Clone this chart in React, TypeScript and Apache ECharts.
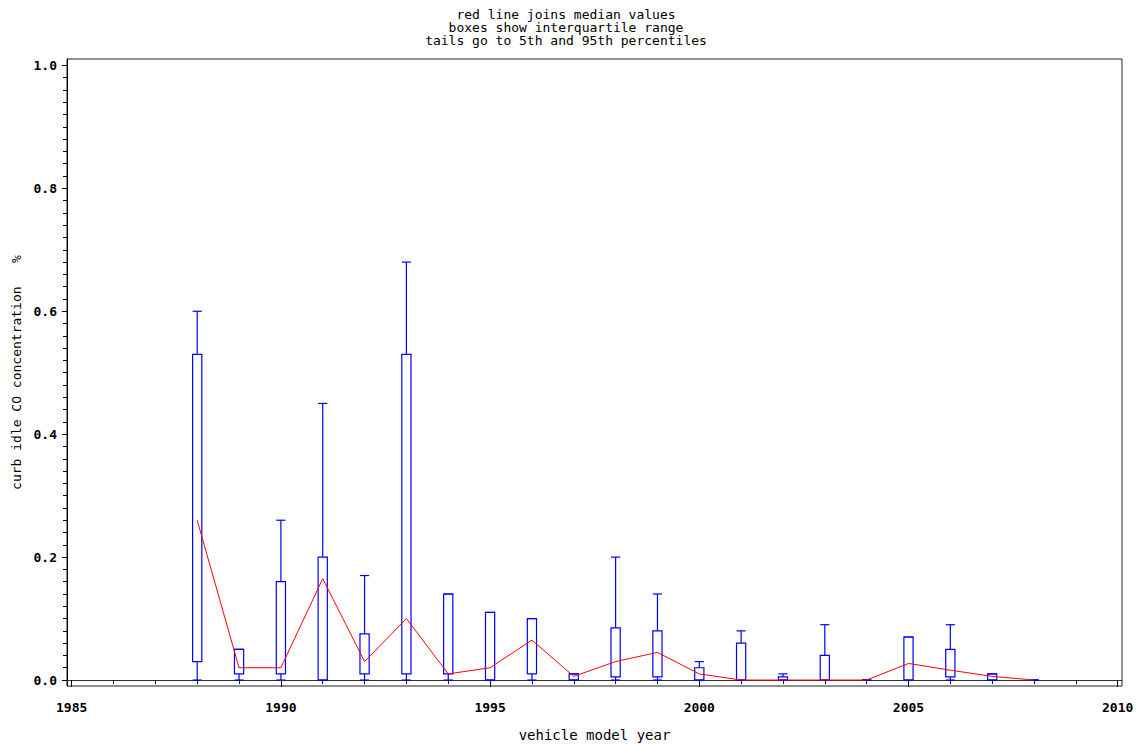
import React, { useEffect, useRef } from "react";
import * as echarts from "echarts";

const years = [1988, 1989, 1990, 1991, 1992, 1993, 1994, 1995, 1996, 1997, 1998, 1999, 2000, 2001, 2002, 2003, 2004, 2005, 2006, 2007, 2008];
const p5 = [0, 0, 0, 0, 0, 0, 0, 0, 0, 0, 0, 0, 0, 0, 0, 0, 0, 0, 0, 0, 0];
const q1 = [0.03, 0.01, 0.01, 0, 0.01, 0.01, 0.01, 0, 0.01, 0, 0.005, 0.005, 0, 0, 0, 0, 0, 0, 0.005, 0, 0];
const q3 = [0.53, 0.05, 0.16, 0.2, 0.075, 0.53, 0.14, 0.11, 0.1, 0.01, 0.085, 0.08, 0.02, 0.06, 0.005, 0.04, 0, 0.07, 0.05, 0.01, 0];
const p95 = [0.6, 0.05, 0.26, 0.45, 0.17, 0.68, 0.14, 0.11, 0.1, 0.01, 0.2, 0.14, 0.03, 0.08, 0.01, 0.09, 0, 0.07, 0.09, 0.01, 0];
const medians = [0.26, 0.02, 0.02, 0.165, 0.03, 0.1, 0.01, 0.02, 0.065, 0.006, 0.03, 0.045, 0.01, 0, 0, 0, 0, 0.027, 0.016, 0.006, 0];

const xMajorTicks = [1985, 1990, 1995, 2000, 2005, 2010];
const xMinorTicks = Array.from({ length: 26 }, (_, i) => 1985 + i);
const yMajorTicks = [0, 0.2, 0.4, 0.6, 0.8, 1.0];
const yMinorTicks = Array.from({ length: 51 }, (_, i) => Math.round(i * 2) / 100);

const titleLines = ["red line joins median values", "boxes show interquartile range", "tails go to 5th and 95th percentiles"];
const xName = "vehicle model year";
const yName = "curb idle CO concentration   %";

const BLUE = "#0000ff";
const RED = "#ff0000";
const MONO = "DejaVu Sans Mono";

export default function App() {
  const ref = useRef<HTMLDivElement>(null);
  useEffect(() => {
    document.body.style.margin = "0";
    const chart = echarts.init(ref.current!, null, { renderer: "svg" });
    const boxData = years.map((y, i) => [y, p5[i], q1[i], q3[i], p95[i]]);
    const medData = years.map((y, i) => [y, medians[i]]);
    const xMin = 1984.888;
    const xMax = 2010.103;
    const yMin = -0.0097;
    const yMax = 1.0104;
    chart.setOption({
      animation: false,
      backgroundColor: "#fff",
      grid: { left: 67, right: 19, top: 59, bottom: 59, show: true, borderColor: "#222", borderWidth: 1, containLabel: false },
      graphic: titleLines.map((t, i) => ({
        type: "text",
        x: 566,
        y: 14 + i * 13,
        style: {
          text: t,
          textAlign: "center",
          textVerticalAlign: "middle",
          fontFamily: MONO,
          fontSize: 13,
          fill: "#000",
        },
      })),
      xAxis: [
        {
          type: "value",
          min: xMin,
          max: xMax,
          axisLine: { show: true, lineStyle: { color: "#333", width: 1 } },
          axisTick: { show: true, length: 7, customValues: xMajorTicks, lineStyle: { color: "#000" } },
          axisLabel: {
            show: true,
            customValues: xMajorTicks,
            margin: 15,
            fontFamily: MONO,
            fontWeight: "bold",
            fontSize: 13,
            color: "#000",
            formatter: (v: number) => String(Math.round(v)),
          },
          splitLine: { show: false },
          name: xName,
          nameLocation: "middle",
          nameGap: 42,
          nameTextStyle: { fontFamily: MONO, fontSize: 14, color: "#000" },
        },
        {
          type: "value",
          position: "bottom",
          min: xMin,
          max: xMax,
          axisLine: { show: false },
          axisTick: { show: true, length: 4, customValues: xMinorTicks, lineStyle: { color: "#000" } },
          axisLabel: { show: false },
          splitLine: { show: false },
        },
      ],
      yAxis: [
        {
          type: "value",
          min: yMin,
          max: yMax,
          axisLine: { show: true, lineStyle: { color: "#000", width: 1 } },
          axisTick: { show: true, length: 5, customValues: yMajorTicks, lineStyle: { color: "#000" } },
          axisLabel: {
            show: true,
            customValues: yMajorTicks,
            margin: 10,
            fontFamily: MONO,
            fontWeight: "bold",
            fontSize: 13,
            color: "#000",
            formatter: (v: number) => v.toFixed(1),
          },
          splitLine: { show: false },
          name: yName,
          nameLocation: "middle",
          nameGap: 44,
          nameRotate: 90,
          nameTextStyle: { fontFamily: MONO, fontSize: 13, color: "#000" },
        },
        {
          type: "value",
          position: "left",
          offset: 0,
          min: yMin,
          max: yMax,
          axisLine: { show: false },
          axisTick: { show: true, length: 4, customValues: yMinorTicks, lineStyle: { color: "#000" } },
          axisLabel: { show: false },
          splitLine: { show: false },
        },
      ],
      series: [
        {
          type: "custom",
          xAxisIndex: 0,
          yAxisIndex: 0,
          data: boxData,
          z: 2,
          renderItem: (params: any, api: any) => {
            const x = api.value(0);
            const lo = api.coord([x, api.value(1)]);
            const b1 = api.coord([x, api.value(2)]);
            const b3 = api.coord([x, api.value(3)]);
            const hi = api.coord([x, api.value(4)]);
            const w = api.size([0.22, 0])[0];
            const cx = lo[0];
            const st = { stroke: BLUE, fill: "none", lineWidth: 1.2 };
            return {
              type: "group",
              children: [
                { type: "line", shape: { x1: cx, y1: b3[1], x2: cx, y2: hi[1] }, style: st },
                { type: "line", shape: { x1: cx - w / 2, y1: hi[1], x2: cx + w / 2, y2: hi[1] }, style: st },
                { type: "line", shape: { x1: cx, y1: b1[1], x2: cx, y2: lo[1] }, style: st },
                { type: "line", shape: { x1: cx - w / 2, y1: lo[1], x2: cx + w / 2, y2: lo[1] }, style: st },
                { type: "rect", shape: { x: cx - w / 2, y: b3[1], width: w, height: b1[1] - b3[1] }, style: st },
              ],
            };
          },
        },
        {
          type: "line",
          xAxisIndex: 0,
          yAxisIndex: 0,
          data: medData,
          symbol: "none",
          z: 3,
          lineStyle: { color: RED, width: 1 },
          itemStyle: { color: RED },
        },
      ],
    });
    return () => chart.dispose();
  }, []);
  return <div ref={ref} style={{ width: 1141, height: 747 }} />;
}
